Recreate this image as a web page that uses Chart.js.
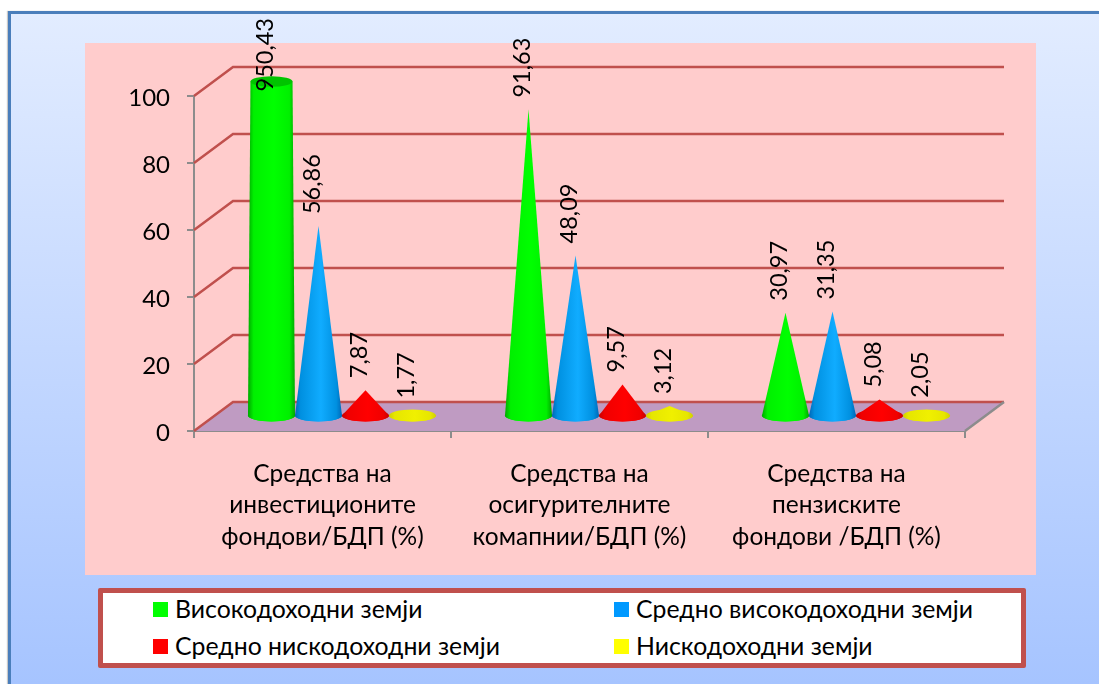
<!DOCTYPE html>
<html>
<head>
<meta charset="utf-8">
<title>Средства / БДП</title>
<script src="https://cdn.jsdelivr.net/npm/chart.js@4/dist/chart.umd.min.js"></script>
<style>
    html, body { margin: 0; padding: 0; background: #fff; }
    body { width: 1099px; height: 684px; position: relative; overflow: hidden; font-family: Lato, "Open Sans", sans-serif; }
    #slide { position: absolute; left: 8px; top: 11px; width: 1091px; height: 673px; box-sizing: border-box;
        border-left: 3px solid #4a7ebb; border-top: 3px solid #4a7ebb;
        box-shadow: -1px 0 1px #c8c8c8;
        background: linear-gradient(to bottom, #e2ecff, #a6c4ff); }
    #panel { position: absolute; left: 85px; top: 43px; width: 951px; height: 532px; background: #ffcccc; }
    #chartCanvas { position: absolute; left: 0; top: 0; }
    #legendBox { position: absolute; left: 98px; top: 588px; width: 928px; height: 80px; box-sizing: border-box;
        background: #fff; border: 5px solid #c0504d; border-radius: 2px; }
    .legend-item { position: absolute; font-size: 24.8px; line-height: 30px; color: #000; white-space: nowrap; }
    .legend-swatch { position: absolute; left: -22px; top: 8px; width: 15px; height: 15px; }
</style>
</head>
<body>
<div id="slide"></div>
<div id="panel"></div>
<canvas id="chartCanvas" width="1099" height="684"></canvas>
<div id="legendBox"></div>

<script>
// Values
const categories = [
    ['Средства на', 'инвестиционите', 'фондови/БДП (%)'],
    ['Средства на', 'осигурителните', 'комапнии/БДП (%)'],
    ['Средства на', 'пензиските', 'фондови /БДП (%)']
];
const seriesNames = ['Високодоходни земји', 'Средно високодоходни земји', 'Средно нискодоходни земји', 'Нискодоходни земји'];
const highIncome = [950.43, 91.63, 30.97];
const upperMiddleIncome = [56.86, 48.09, 31.35];
const lowerMiddleIncome = [7.87, 9.57, 5.08];
const lowIncome = [1.77, 3.12, 2.05];
const seriesColors = ['#00ff00', '#0099ff', '#ff0000', '#ffff00'];
const seriesBright = ['#00ff00', '#10acff', '#ff0000', '#f0f000'];
const seriesEdges = ['#00a800', '#0068b8', '#c80000', '#d0d000'];
const seriesMids = ['#00f000', '#0090e0', '#f00000', '#e6e600'];
const seriesTops = ['#00c400', '#0080d0', '#d00000', '#d0d000'];

const axisMax = 100;
const axisStep = 20;

// Fake 3D depth of the chart box
const depthX = 39;
const depthY = -29;
const coneRy = 6;
const axisGrey = '#8c8c8c';
const wallRed = '#c0504d';
const floorColor = '#bf9bc2';
const fontFamily = 'Lato, "Open Sans", sans-serif';

function drawWalls(chart) {
    const ctx = chart.ctx;
    const area = chart.chartArea;
    const yScale = chart.scales.y;

    // Floor
    ctx.save();
    ctx.fillStyle = floorColor;
    ctx.beginPath();
    ctx.moveTo(area.left, area.bottom);
    ctx.lineTo(area.left + depthX, area.bottom + depthY);
    ctx.lineTo(area.right + depthX, area.bottom + depthY);
    ctx.lineTo(area.right, area.bottom);
    ctx.closePath();
    ctx.fill();

    // Grid lines run back from the axis and along the wall
    ctx.strokeStyle = wallRed;
    ctx.lineWidth = 2.5;
    yScale.ticks.forEach(tick => {
        const y = yScale.getPixelForValue(tick.value);
        ctx.beginPath();
        ctx.moveTo(area.left, y);
        ctx.lineTo(area.left + depthX, y + depthY);
        ctx.lineTo(area.right + depthX, y + depthY);
        ctx.stroke();
    });

    // Right edge of the floor
    ctx.strokeStyle = axisGrey;
    ctx.beginPath();
    ctx.moveTo(area.right, area.bottom);
    ctx.lineTo(area.right + depthX, area.bottom + depthY);
    ctx.stroke();
    ctx.restore();
}

function drawCone(chart, bar, value, seriesIndex) {
    const ctx = chart.ctx;
    const yScale = chart.scales.y;
    const cx = bar.x + depthX / 2;
    const baseY = bar.base + depthY / 2;
    const rx = bar.width / 2;
    const apexY = yScale.getPixelForValue(value) + depthY / 2;
    // A value over the axis maximum leaves a cut off cone
    const clipped = value > axisMax;
    const topY = clipped ? yScale.getPixelForValue(axisMax) + depthY / 2 : apexY;
    const topRx = clipped ? rx * (1 - axisMax / value) : 0;
    const topRy = clipped ? coneRy * (1 - axisMax / value) : 0;

    const grad = ctx.createLinearGradient(cx - rx, 0, cx + rx, 0);
    grad.addColorStop(0, seriesEdges[seriesIndex]);
    grad.addColorStop(0.12, seriesMids[seriesIndex]);
    grad.addColorStop(0.55, seriesBright[seriesIndex]);
    grad.addColorStop(0.88, seriesMids[seriesIndex]);
    grad.addColorStop(1, seriesEdges[seriesIndex]);

    ctx.save();
    ctx.fillStyle = grad;
    ctx.beginPath();
    ctx.ellipse(cx, baseY, rx, coneRy, 0, 0, Math.PI * 2);
    ctx.fill();
    ctx.beginPath();
    ctx.moveTo(cx - topRx, topY);
    ctx.lineTo(cx + topRx, topY);
    ctx.lineTo(cx + rx, baseY);
    ctx.ellipse(cx, baseY, rx, coneRy, 0, 0, Math.PI);
    ctx.closePath();
    ctx.fill();
    if (clipped) {
        ctx.fillStyle = seriesTops[seriesIndex];
        ctx.beginPath();
        ctx.ellipse(cx, topY, topRx, topRy, 0, 0, Math.PI * 2);
        ctx.fill();
    }
    ctx.restore();

    return { x: cx, y: clipped ? topY + 22 : apexY };
}

function drawValueLabel(chart, pos, value) {
    const ctx = chart.ctx;
    ctx.save();
    ctx.translate(pos.x - 6, pos.y - 12);
    ctx.rotate(-Math.PI / 2);
    ctx.font = '23.5px ' + fontFamily;
    ctx.fillStyle = '#000';
    ctx.textAlign = 'left';
    ctx.textBaseline = 'middle';
    ctx.fillText(value.toFixed(2).replace('.', ','), 0, 0);
    ctx.restore();
}

// Bars are replaced by cones standing on the floor
const conePlugin = {
    id: 'cones',
    beforeDatasetsDraw(chart) {
        drawWalls(chart);
        const labels = [];
        chart.data.datasets.forEach((ds, i) => {
            const meta = chart.getDatasetMeta(i);
            meta.data.forEach((bar, j) => {
                labels.push([drawCone(chart, bar, ds.data[j], i), ds.data[j]]);
            });
        });
        labels.forEach(l => drawValueLabel(chart, l[0], l[1]));
    },
    beforeDatasetDraw() {
        return false;
    }
};

new Chart(document.getElementById('chartCanvas'), {
    type: 'bar',
    data: {
        labels: categories,
        datasets: [
            { label: seriesNames[0], data: highIncome, backgroundColor: seriesColors[0] },
            { label: seriesNames[1], data: upperMiddleIncome, backgroundColor: seriesColors[1] },
            { label: seriesNames[2], data: lowerMiddleIncome, backgroundColor: seriesColors[2] },
            { label: seriesNames[3], data: lowIncome, backgroundColor: seriesColors[3] }
        ]
    },
    options: {
        responsive: false,
        animation: false,
        layout: { padding: { left: 0, right: 134, top: 96, bottom: 0 } },
        datasets: { bar: { barPercentage: 1, categoryPercentage: 0.7315 } },
        plugins: {
            legend: { display: false },
            tooltip: { enabled: false }
        },
        scales: {
            x: {
                grid: { color: axisGrey, lineWidth: 2, drawOnChartArea: false, tickLength: 7 },
                border: { color: axisGrey, width: 2 },
                ticks: {
                    color: '#000',
                    font: { family: fontFamily, size: 24.5, lineHeight: 1.286 },
                    padding: 20,
                    autoSkip: false,
                    maxRotation: 0
                },
                afterFit: scale => { scale.height = 253; }
            },
            y: {
                min: 0,
                max: axisMax,
                grid: { color: axisGrey, lineWidth: 2, drawOnChartArea: false, tickLength: 7 },
                border: { color: axisGrey, width: 2 },
                ticks: {
                    stepSize: axisStep,
                    color: '#000',
                    font: { family: fontFamily, size: 24 },
                    padding: 17,
                    labelOffset: 2
                },
                afterFit: scale => { scale.width = 194; }
            }
        }
    },
    plugins: [conePlugin]
});

// Two column legend in its own box
const legendBox = document.getElementById('legendBox');
const legendColumns = [72, 533];
const legendRows = [1, 38];
seriesNames.forEach((name, i) => {
    const item = document.createElement('div');
    item.className = 'legend-item';
    item.style.left = legendColumns[i % 2] + 'px';
    item.style.top = legendRows[Math.floor(i / 2)] + 'px';
    item.textContent = name;
    const swatch = document.createElement('span');
    swatch.className = 'legend-swatch';
    swatch.style.background = seriesColors[i];
    item.appendChild(swatch);
    legendBox.appendChild(item);
});
</script>
</body>
</html>
